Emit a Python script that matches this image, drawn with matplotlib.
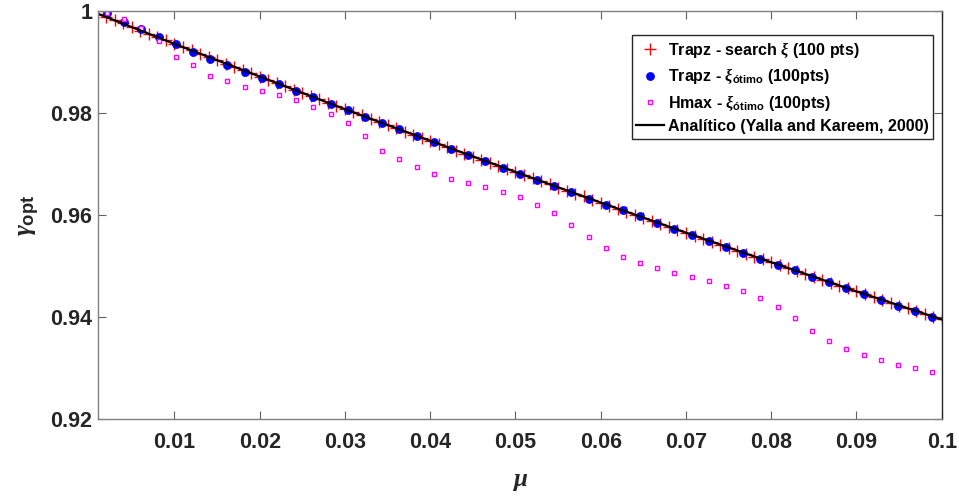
import numpy as np
import matplotlib
matplotlib.use("Agg")
import matplotlib.pyplot as plt

plt.rcParams['font.family'] = ['Liberation Sans', 'DejaVu Sans']
plt.rcParams['font.weight'] = 'bold'
plt.rcParams['mathtext.fontset'] = 'custom'
plt.rcParams['mathtext.rm'] = 'Liberation Sans:bold'
plt.rcParams['mathtext.bf'] = 'Liberation Sans:bold'
plt.rcParams['mathtext.it'] = 'Liberation Serif:italic'

# mass ratio grids
mu_search = np.linspace(0.001, 0.1, 100)
mu_opt = np.linspace(0.0021, 0.0989, 49)
mu_analit = [0.001, 0.01, 0.02, 0.03, 0.04, 0.05, 0.06, 0.07, 0.08, 0.09, 0.1]

# Trapz - search xi (100 pts)
gamma_search = [
    0.9994, 0.9988, 0.9981, 0.9975, 0.9968, 0.9961, 0.9955, 0.9948, 0.9942, 0.9935,
    0.9929, 0.9922, 0.9916, 0.9909, 0.9903, 0.9896, 0.9890, 0.9884, 0.9877, 0.9871,
    0.9864, 0.9858, 0.9852, 0.9845, 0.9839, 0.9832, 0.9826, 0.9820, 0.9814, 0.9807,
    0.9801, 0.9795, 0.9788, 0.9782, 0.9776, 0.9770, 0.9763, 0.9757, 0.9751, 0.9745,
    0.9739, 0.9733, 0.9726, 0.9720, 0.9714, 0.9708, 0.9702, 0.9696, 0.9690, 0.9684,
    0.9678, 0.9672, 0.9666, 0.9660, 0.9653, 0.9647, 0.9641, 0.9636, 0.9630, 0.9624,
    0.9618, 0.9612, 0.9606, 0.9600, 0.9594, 0.9588, 0.9582, 0.9576, 0.9571, 0.9565,
    0.9559, 0.9553, 0.9547, 0.9541, 0.9536, 0.9530, 0.9524, 0.9518, 0.9513, 0.9507,
    0.9501, 0.9495, 0.9490, 0.9484, 0.9478, 0.9473, 0.9467, 0.9461, 0.9456, 0.9450,
    0.9445, 0.9439, 0.9433, 0.9428, 0.9422, 0.9417, 0.9411, 0.9406, 0.9400, 0.9395,
]

# Trapz - xi otimo
gamma_trapz = [
    0.9995, 0.9977, 0.9964, 0.9949, 0.9934, 0.9920, 0.9906, 0.9893, 0.9880, 0.9868,
    0.9856, 0.9843, 0.9831, 0.9818, 0.9805, 0.9792, 0.9780, 0.9768, 0.9754, 0.9742,
    0.9729, 0.9717, 0.9705, 0.9692, 0.9680, 0.9668, 0.9656, 0.9644, 0.9632, 0.9620,
    0.9609, 0.9597, 0.9585, 0.9573, 0.9561, 0.9549, 0.9537, 0.9526, 0.9514, 0.9502,
    0.9491, 0.9479, 0.9468, 0.9456, 0.9445, 0.9434, 0.9422, 0.9411, 0.9400,
]

# Hmax - xi otimo
gamma_hmax = [
    0.9995, 0.9983, 0.9966, 0.9940, 0.9909, 0.9894, 0.9873, 0.9862, 0.9851, 0.9842,
    0.9834, 0.9825, 0.9812, 0.9798, 0.9779, 0.9754, 0.9726, 0.9709, 0.9693, 0.9680,
    0.9671, 0.9662, 0.9654, 0.9645, 0.9634, 0.9620, 0.9603, 0.9581, 0.9556, 0.9535,
    0.9518, 0.9505, 0.9495, 0.9486, 0.9478, 0.9470, 0.9461, 0.9450, 0.9437, 0.9420,
    0.9398, 0.9372, 0.9353, 0.9338, 0.9325, 0.9315, 0.9306, 0.9299, 0.9292,
]

# Yalla and Kareem (2000)
gamma_analit = [0.9994, 0.9935, 0.9871, 0.9807, 0.9745, 0.9684, 0.9624, 0.9565, 0.9507, 0.9450, 0.9395]

xticks = [0.01, 0.02, 0.03, 0.04, 0.05, 0.06, 0.07, 0.08, 0.09, 0.1]
xticklabels = ['0.01', '0.02', '0.03', '0.04', '0.05', '0.06', '0.07', '0.08', '0.09', '0.1']
yticks = [0.92, 0.94, 0.96, 0.98, 1.0]
yticklabels = ['0.92', '0.94', '0.96', '0.98', '1']

fig = plt.figure(figsize=(9.59, 4.99), dpi=100)
ax = fig.add_axes([0.1019, 0.1603, 0.8801, 0.8183])

ax.plot(mu_search, gamma_search, '+', color='red', markersize=8, markeredgewidth=1.0,
        label=r'Trapz - search $\xi$ (100 pts)')
ax.plot(mu_opt, gamma_trapz, 'o', color='blue', markersize=5.8, markeredgewidth=0.5,
        label=r'Trapz - $\xi_{\mathbf{ótimo}}$ (100pts)')
ax.plot(mu_opt, gamma_hmax, 's', color='magenta', markerfacecolor='white', markersize=3.5,
        markeredgewidth=1.0, label=r'Hmax - $\xi_{\mathbf{ótimo}}$ (100pts)')
ax.plot(mu_analit, gamma_analit, '-', color='black', linewidth=1.6,
        label='Analítico (Yalla and Kareem, 2000)')

ax.set_xlim(0.001, 0.1)
ax.set_ylim(0.92, 1.0)
ax.set_xticks(xticks)
ax.set_xticklabels(xticklabels)
ax.set_yticks(yticks)
ax.set_yticklabels(yticklabels)

ax.tick_params(direction='in', length=6, width=0.8, color='#606060', labelsize=15.5,
               labelcolor='#262626', top=True, right=True)
ax.tick_params(axis='x', pad=9)
ax.tick_params(axis='y', pad=4)
for side in ['left', 'bottom', 'top']:
    ax.spines[side].set_color('#808080')
ax.spines['right'].set_color('#262626')
for s in ax.spines.values():
    s.set_linewidth(1.0)

ax.set_xlabel(r'$\mu$', fontsize=18, color='#262626', labelpad=12)
ax.set_ylabel(r'$\gamma_{\mathbf{opt}}$', fontsize=19, color='#262626', labelpad=6)

leg = ax.legend(loc='upper right', bbox_to_anchor=(0.9897, 0.9405), borderaxespad=0,
                fontsize=11.5, frameon=True, fancybox=False,
                edgecolor='#262626', framealpha=1,
                handlelength=1.7, handletextpad=0.25, labelspacing=0.4, borderpad=0.3)
leg.get_frame().set_linewidth(1.0)

fig.savefig('out.png', dpi=100)
